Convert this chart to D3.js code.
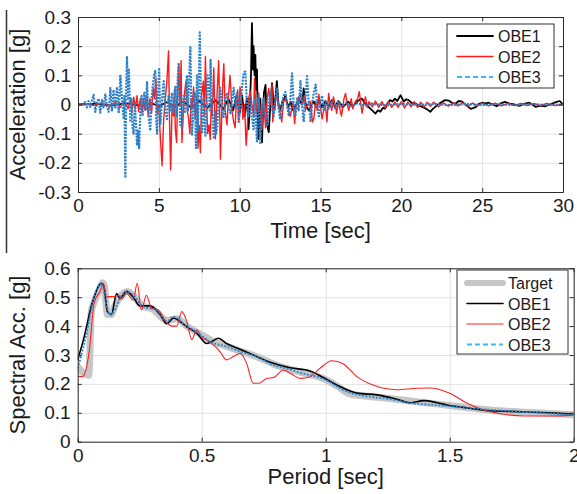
<!DOCTYPE html>
<html>
<head>
<meta charset="utf-8">
<script src="https://cdn.jsdelivr.net/npm/d3@7"></script>
<style>
body { margin: 0; background: #fff; }
svg text { font-family: "Liberation Sans", Arial, sans-serif; fill: #1a1a1a; }
</style>
</head>
<body>
<svg width="577" height="494"></svg>
<script>
// tick labels
const timeTicks = [0, 5, 10, 15, 20, 25, 30];
const accTicks = [-0.3, -0.2, -0.1, 0, 0.1, 0.2, 0.3];
const periodTicks = [0, 0.5, 1, 1.5, 2];
const saTicks = [0, 0.1, 0.2, 0.3, 0.4, 0.5, 0.6];

// acceleration time histories [time s, acc g]
const obe1Acc = [[0,0],[1,0.002],[2,-0.003],[3,0.004],[4,-0.005],[4.5,0.006],[5,-0.006],[5.5,0.008],[6,-0.008],[6.5,0.01],[7,-0.01],[7.5,0.012],[8,-0.012],[8.5,0.015],[9,-0.015],[9.3,0.02],[9.6,-0.02],[9.8,0.03],[10.0,-0.03],[10.15,0.03],[10.3,-0.04],[10.45,0.02],[10.55,-0.085],[10.62,-0.02],[10.7,0.1],[10.76,0.279],[10.82,0.12],[10.86,0.2],[10.92,0.1],[10.97,0.17],[11.02,0.05],[11.07,0.12],[11.12,-0.05],[11.17,-0.118],[11.22,0.0],[11.28,0.02],[11.33,-0.08],[11.38,-0.13],[11.45,-0.02],[11.5,0.04],[11.6,0.067],[11.65,-0.02],[11.7,-0.07],[11.8,-0.095],[11.9,0.0],[12.0,0.073],[12.08,0.02],[12.15,-0.02],[12.3,0.08],[12.4,0.0],[12.5,-0.02],[12.65,0.01],[12.83,0.03],[13.0,-0.01],[13.15,0.01],[13.3,-0.02],[13.5,0.0],[13.66,0.02],[13.85,0.0],[13.96,0.055],[14.05,0.01],[14.15,-0.01],[14.28,-0.02],[14.45,0.0],[14.6,0.01],[14.75,-0.01],[14.9,0.015],[15.1,-0.01],[15.3,0.012],[15.5,-0.008],[15.7,0.015],[15.9,-0.01],[16.1,0.012],[16.4,-0.008],[16.7,0.01],[17.0,-0.006],[17.3,0.012],[17.57,0.02],[17.8,0.0],[18.0,-0.01],[18.2,-0.02],[18.4,-0.031],[18.55,-0.02],[18.7,-0.025],[18.85,-0.012],[19.0,-0.014],[19.15,0.005],[19.3,0.015],[19.45,0.01],[19.6,0.02],[19.75,0.012],[19.95,0.032],[20.15,0.01],[20.3,0.018],[20.45,0.015],[20.65,0.005],[20.88,0.003],[21.1,-0.004],[21.3,-0.008],[21.55,-0.015],[21.8,-0.025],[21.95,-0.015],[22.1,-0.008],[22.4,0.005],[22.7,0.015],[22.95,0.013],[23.15,0.005],[23.35,0.003],[23.55,0.012],[23.76,0.01],[24.0,-0.002],[24.3,-0.015],[24.6,-0.009],[24.8,0.002],[25.0,0.006],[25.2,0.004],[25.4,0.006],[25.65,0.0],[25.9,-0.006],[26.15,0.004],[26.4,0.009],[26.7,0.003],[27.0,0.0],[27.3,-0.005],[27.6,0.002],[27.9,0.006],[28.1,0.0],[28.3,-0.008],[28.6,-0.004],[28.9,-0.006],[29.2,0.0],[29.6,0.009],[29.8,0.012],[30,0.0]];

const obe2Acc = [[0,0],[0.5,0.002],[1.0,-0.004],[1.5,0.005],[2.0,-0.006],[2.3,0.008],[2.6,-0.01],[2.9,0.012],[3.1,-0.015],[3.25,0.02],[3.34,-0.02],[3.45,0.025],[3.55,-0.015],[3.65,0.03],[3.75,-0.025],[3.85,0.02],[3.95,-0.03],[4.05,0.02],[4.15,-0.02],[4.25,0.03],[4.35,-0.04],[4.45,0.02],[4.55,-0.03],[4.66,0.056],[4.74,0.02],[4.82,0.09],[4.9,-0.03],[4.99,0.0],[5.1,-0.12],[5.2,-0.21],[5.3,-0.05],[5.4,0.02],[5.5,0.08],[5.6,0.184],[5.66,-0.05],[5.73,-0.224],[5.82,0.0],[5.91,-0.04],[5.97,0.05],[6.02,-0.084],[6.1,-0.13],[6.17,0.05],[6.23,0.137],[6.3,0.0],[6.38,0.15],[6.43,-0.13],[6.52,-0.02],[6.6,0.045],[6.68,0.08],[6.76,-0.02],[6.84,-0.049],[6.92,-0.1],[7.0,0.02],[7.05,-0.014],[7.15,0.06],[7.25,-0.05],[7.35,0.03],[7.42,-0.15],[7.5,-0.073],[7.57,-0.165],[7.65,0.03],[7.75,0.08],[7.82,-0.04],[7.88,0.165],[7.95,0.02],[8.02,-0.1],[8.1,-0.07],[8.18,-0.12],[8.25,0.02],[8.3,-0.04],[8.4,0.125],[8.45,0.0],[8.5,-0.118],[8.6,0.03],[8.7,0.15],[8.76,0.0],[8.81,-0.188],[8.9,-0.02],[8.96,0.08],[9.02,0.14],[9.1,-0.02],[9.22,-0.07],[9.3,0.02],[9.4,0.1],[9.45,0.057],[9.52,-0.02],[9.63,-0.06],[9.72,-0.08],[9.8,0.02],[9.88,0.05],[9.94,-0.06],[10.02,0.06],[10.1,0.03],[10.2,-0.05],[10.3,0.0],[10.4,-0.14],[10.45,-0.1],[10.55,0.02],[10.66,0.045],[10.76,0.0],[10.86,-0.04],[10.92,0.09],[10.97,0.02],[11.05,-0.03],[11.17,0.04],[11.28,-0.03],[11.38,-0.085],[11.5,0.0],[11.6,-0.08],[11.7,0.02],[11.8,0.055],[11.9,0.0],[12.0,0.07],[12.05,-0.06],[12.15,0.0],[12.3,0.033],[12.45,-0.01],[12.6,-0.06],[12.72,0.01],[12.83,0.02],[12.98,-0.01],[13.14,-0.04],[13.3,0.01],[13.4,-0.066],[13.5,0.0],[13.6,0.02],[13.76,0.035],[13.9,0.0],[14.0,0.03],[14.07,-0.02],[14.2,0.0],[14.38,0.01],[14.5,-0.06],[14.58,-0.05],[14.7,0.01],[14.8,-0.02],[14.9,0.035],[15.0,-0.01],[15.1,-0.049],[15.2,-0.02],[15.3,0.0],[15.4,-0.06],[15.5,0.038],[15.6,0.0],[15.7,-0.02],[15.8,0.026],[15.9,0.0],[16.0,-0.03],[16.1,0.01],[16.3,-0.04],[16.45,0.02],[16.55,0.038],[16.65,0.0],[16.75,-0.02],[16.9,0.02],[17.0,-0.015],[17.15,0.01],[17.3,0.02],[17.4,0.044],[17.5,0.0],[17.57,-0.03],[17.7,0.01],[17.78,0.026],[17.9,-0.01],[18.0,0.01],[18.2,-0.008],[18.4,0.012],[18.6,-0.01],[18.8,0.01],[19.0,-0.012],[19.2,0.01],[19.4,-0.01],[19.6,0.008],[19.8,-0.01],[20.0,0.01],[20.2,-0.012],[20.4,0.008],[20.6,-0.008],[20.8,0.01],[21.0,-0.01],[21.2,0.008],[21.4,-0.01],[21.6,0.008],[21.8,-0.006],[22.0,0.008],[22.3,-0.008],[22.6,0.006],[22.9,-0.006],[23.2,0.006],[23.5,-0.005],[23.8,0.006],[24.1,-0.006],[24.4,0.005],[24.7,-0.005],[25.0,0.005],[25.4,-0.005],[25.8,0.005],[26.2,-0.005],[26.6,0.004],[27.0,-0.004],[27.4,0.004],[27.8,-0.004],[28.2,0.004],[28.6,-0.004],[29.0,0.004],[29.5,-0.004],[30,0]];

const obe3Acc = [[0,0],[0.3,0],[0.45,0.008],[0.55,-0.01],[0.65,0.012],[0.75,-0.008],[0.87,0.015],[0.97,0.033],[1.07,-0.025],[1.17,0.01],[1.28,0.02],[1.38,-0.028],[1.48,0.015],[1.58,-0.01],[1.69,0.035],[1.8,-0.008],[1.9,-0.025],[2.0,0.056],[2.06,0.01],[2.1,-0.02],[2.2,0.05],[2.31,-0.015],[2.41,0.06],[2.52,-0.03],[2.62,0.102],[2.72,0.02],[2.82,-0.05],[2.87,0.03],[2.93,-0.252],[2.98,0.05],[3.03,0.166],[3.1,0.02],[3.15,0.12],[3.24,-0.06],[3.3,0.02],[3.38,-0.08],[3.44,-0.1],[3.52,0.0],[3.58,-0.06],[3.65,-0.14],[3.72,-0.09],[3.78,-0.15],[3.86,-0.02],[3.93,0.03],[4.0,-0.04],[4.1,0.04],[4.2,-0.02],[4.27,0.077],[4.35,-0.03],[4.47,-0.09],[4.55,0.02],[4.62,0.06],[4.7,0.1],[4.78,0.115],[4.84,-0.05],[4.89,-0.1],[4.95,0.03],[5.02,0.126],[5.09,-0.07],[5.2,0.02],[5.3,0.08],[5.4,-0.02],[5.5,-0.05],[5.6,0.03],[5.7,-0.02],[5.81,0.04],[5.9,-0.03],[6.02,0.064],[6.1,-0.04],[6.17,0.09],[6.23,0.143],[6.28,0.02],[6.33,-0.07],[6.43,-0.08],[6.54,0.03],[6.62,-0.03],[6.74,0.1],[6.8,-0.02],[6.87,0.08],[6.95,0.2],[7.0,0.02],[7.05,-0.107],[7.15,0.0],[7.22,0.04],[7.3,-0.15],[7.36,0.1],[7.42,-0.09],[7.47,0.05],[7.53,0.247],[7.6,0.05],[7.67,-0.1],[7.75,0.02],[7.82,-0.06],[7.88,-0.107],[7.95,0.01],[8.02,0.1],[8.1,0.07],[8.15,-0.02],[8.2,0.153],[8.28,0.0],[8.35,-0.07],[8.4,-0.118],[8.47,-0.02],[8.53,-0.1],[8.6,-0.083],[8.7,0.01],[8.8,0.057],[8.9,-0.01],[9.0,-0.047],[9.1,0.02],[9.22,0.04],[9.32,-0.01],[9.43,-0.03],[9.53,0.02],[9.63,0.057],[9.75,-0.01],[9.85,0.04],[9.94,-0.06],[10.05,0.0],[10.15,0.06],[10.25,0.11],[10.35,0.113],[10.45,0.0],[10.55,-0.04],[10.65,0.03],[10.75,-0.04],[10.86,-0.085],[10.95,0.02],[11.07,-0.13],[11.17,0.032],[11.28,-0.136],[11.38,-0.02],[11.48,0.02],[11.58,-0.03],[11.7,-0.07],[11.8,0.0],[11.9,0.043],[12.0,-0.01],[12.1,-0.04],[12.2,0.01],[12.3,0.055],[12.4,-0.01],[12.5,-0.05],[12.62,0.0],[12.72,0.03],[12.83,0.043],[12.95,-0.01],[13.05,-0.04],[13.14,0.02],[13.24,0.107],[13.34,0.0],[13.45,-0.04],[13.55,0.02],[13.65,-0.02],[13.76,0.08],[13.86,0.0],[13.96,-0.06],[14.07,0.02],[14.17,0.097],[14.27,0.01],[14.38,-0.06],[14.48,0.0],[14.58,0.04],[14.7,0.068],[14.8,0.0],[14.9,-0.04],[15.0,0.01],[15.1,0.03],[15.2,-0.02],[15.35,0.015],[15.5,-0.015],[15.7,0.01],[15.9,-0.012],[16.1,0.01],[16.3,-0.008],[16.6,0.006],[16.9,-0.006],[17.3,0.005],[17.7,-0.004],[18.2,0.003],[19,-0.003],[20,0.002],[21,-0.002],[22,0.002],[23,-0.002],[24,0.002],[25,-0.002],[26,0.002],[27,-0.002],[28,0.002],[29,-0.002],[30,0]];

// response spectra [period s, Sa g]
const targetSa = [[0,0.26],[0.02,0.24],[0.045,0.23],[0.055,0.45],[0.065,0.48],[0.09,0.53],[0.1,0.55],[0.107,0.54],[0.12,0.44],[0.135,0.44],[0.15,0.47],[0.17,0.5],[0.2,0.52],[0.22,0.51],[0.26,0.47],[0.3,0.46],[0.36,0.42],[0.4,0.425],[0.44,0.4],[0.5,0.37],[0.55,0.345],[0.6,0.33],[0.65,0.315],[0.72,0.295],[0.8,0.265],[0.9,0.24],[1.0,0.215],[1.05,0.19],[1.1,0.165],[1.2,0.155],[1.3,0.145],[1.4,0.135],[1.5,0.125],[1.6,0.115],[1.7,0.107],[1.8,0.102],[1.9,0.098],[2.0,0.093]];
const obe1Sa = [[0,0.283],[0.023,0.352],[0.06,0.484],[0.096,0.548],[0.105,0.54],[0.12,0.45],[0.136,0.44],[0.157,0.513],[0.17,0.496],[0.197,0.52],[0.224,0.5],[0.251,0.47],[0.291,0.47],[0.332,0.44],[0.359,0.408],[0.386,0.428],[0.413,0.416],[0.44,0.397],[0.48,0.376],[0.52,0.34],[0.537,0.345],[0.567,0.358],[0.6,0.34],[0.654,0.32],[0.708,0.3],[0.776,0.275],[0.856,0.256],[0.937,0.245],[0.99,0.222],[1.045,0.196],[1.126,0.168],[1.207,0.162],[1.287,0.147],[1.34,0.135],[1.395,0.142],[1.449,0.135],[1.5,0.125],[1.58,0.116],[1.66,0.107],[1.77,0.104],[1.9,0.1],[2.0,0.096]];
const obe2Sa = [[0,0.227],[0.018,0.225],[0.036,0.26],[0.047,0.317],[0.066,0.479],[0.09,0.52],[0.103,0.548],[0.117,0.502],[0.144,0.502],[0.164,0.507],[0.177,0.493],[0.197,0.513],[0.224,0.49],[0.24,0.548],[0.257,0.456],[0.277,0.507],[0.297,0.462],[0.325,0.456],[0.352,0.421],[0.379,0.4],[0.399,0.4],[0.42,0.45],[0.44,0.415],[0.46,0.354],[0.48,0.386],[0.5,0.361],[0.52,0.352],[0.547,0.335],[0.574,0.312],[0.6,0.283],[0.628,0.295],[0.655,0.306],[0.681,0.271],[0.708,0.202],[0.73,0.202],[0.762,0.219],[0.79,0.222],[0.83,0.248],[0.86,0.235],[0.9,0.219],[0.937,0.225],[0.977,0.254],[1.025,0.28],[1.07,0.27],[1.126,0.225],[1.19,0.196],[1.287,0.18],[1.368,0.185],[1.42,0.186],[1.5,0.168],[1.57,0.133],[1.637,0.11],[1.718,0.095],[1.8,0.089],[1.9,0.089],[2.0,0.092]];
const obe3Sa = [[0,0.254],[0.036,0.375],[0.063,0.49],[0.096,0.548],[0.117,0.467],[0.13,0.438],[0.15,0.456],[0.17,0.496],[0.197,0.52],[0.224,0.508],[0.264,0.467],[0.318,0.456],[0.359,0.416],[0.386,0.433],[0.433,0.404],[0.48,0.38],[0.534,0.346],[0.6,0.329],[0.655,0.312],[0.722,0.294],[0.789,0.265],[0.856,0.25],[0.883,0.242],[0.997,0.215],[1.085,0.173],[1.138,0.161],[1.26,0.147],[1.354,0.133],[1.488,0.124],[1.622,0.113],[1.76,0.105],[2.0,0.093]];

const svg = d3.select('svg');

// left border line from the cropped page
svg.append('line')
    .attr('x1', 6.5).attr('x2', 6.5)
    .attr('y1', 10).attr('y2', 253)
    .attr('stroke', '#333')
    .attr('stroke-width', 1.5);

function fmt(d) { return d === 0 ? '0' : String(d); }

function panel(p) {
    const g = svg.append('g').attr('transform', `translate(${p.left},${p.top})`);
    const x = d3.scaleLinear().domain(p.xDomain).range([0, p.width]);
    const y = d3.scaleLinear().domain(p.yDomain).range([p.height, 0]);

    // grid
    g.append('g')
        .attr('transform', `translate(0,${p.height})`)
        .call(d3.axisBottom(x).tickValues(p.xTicks).tickSize(-p.height).tickFormat(''))
        .call((a) => a.select('.domain').remove())
        .selectAll('line').attr('stroke', '#e2e2e2');
    g.append('g')
        .call(d3.axisLeft(y).tickValues(p.yTicks).tickSize(-p.width).tickFormat(''))
        .call((a) => a.select('.domain').remove())
        .selectAll('line').attr('stroke', '#e2e2e2');

    // clip
    const clipId = 'clip' + Math.round(p.top);
    g.append('clipPath').attr('id', clipId)
        .append('rect').attr('width', p.width).attr('height', p.height);
    const plot = g.append('g').attr('clip-path', `url(#${clipId})`);

    const line = d3.line()
        .x((d) => x(d[0]))
        .y((d) => y(d[1]))
        .curve(p.curve || d3.curveLinear);

    p.series.forEach((s) => {
        plot.append('path')
            .datum(s.data)
            .attr('fill', 'none')
            .attr('stroke', s.color)
            .attr('stroke-width', s.width)
            .attr('stroke-dasharray', s.dash || null)
            .attr('stroke-linejoin', 'round')
            .attr('d', line);
    });

    // axes (box with inward ticks)
    const axes = [
        g.append('g').attr('transform', `translate(0,${p.height})`)
            .call(d3.axisBottom(x).tickValues(p.xTicks).tickFormat(fmt).tickSizeInner(-4).tickSizeOuter(0).tickPadding(p.xPad)),
        g.append('g')
            .call(d3.axisLeft(y).tickValues(p.yTicks).tickFormat(fmt).tickSizeInner(-4).tickSizeOuter(0).tickPadding(7)),
        g.append('g')
            .call(d3.axisTop(x).tickValues(p.xTicks).tickFormat('').tickSizeInner(-4).tickSizeOuter(0)),
        g.append('g').attr('transform', `translate(${p.width},0)`)
            .call(d3.axisRight(y).tickValues(p.yTicks).tickFormat('').tickSizeInner(-4).tickSizeOuter(0))
    ];
    axes.forEach((a) => {
        a.attr('font-family', null).attr('font-size', 19);
        a.select('.domain').attr('stroke', '#2b2b2b');
        a.selectAll('.tick line').attr('stroke', '#2b2b2b');
        a.selectAll('text').attr('fill', '#1a1a1a');
    });

    // axis titles
    g.append('text')
        .attr('x', p.width / 2)
        .attr('y', p.xTitleY)
        .attr('text-anchor', 'middle')
        .attr('font-size', 22)
        .text(p.xLabel);
    g.append('text')
        .attr('transform', `translate(${25 - p.left},${p.height / 2}) rotate(-90)`)
        .attr('text-anchor', 'middle')
        .attr('font-size', 22)
        .text(p.yLabel);

    // legend
    const lg = svg.append('g');
    lg.append('rect')
        .attr('x', p.legend.x).attr('y', p.legend.y)
        .attr('width', p.legend.w).attr('height', p.legend.h)
        .attr('fill', '#fff')
        .attr('stroke', '#333')
        .attr('stroke-width', 1);
    p.series.forEach((s, i) => {
        const ly = p.legend.y + p.legend.first + i * 20.5;
        lg.append('line')
            .attr('x1', p.legend.x + 10).attr('x2', p.legend.x + 46)
            .attr('y1', ly).attr('y2', ly)
            .attr('stroke', s.legendColor || s.color)
            .attr('stroke-width', s.legendWidth || s.width)
            .attr('stroke-linecap', s.dash ? 'butt' : 'round')
            .attr('stroke-dasharray', s.legendDash || null);
        lg.append('text')
            .attr('x', p.legend.x + 51)
            .attr('y', ly + 6)
            .attr('font-size', 16)
            .text(s.name);
    });
}

// acceleration time histories
panel({
    left: 78, top: 17, width: 485, height: 175,
    xDomain: [0, 30], yDomain: [-0.3, 0.3],
    xTicks: timeTicks, yTicks: accTicks, xPad: 7,
    xLabel: 'Time [sec]', yLabel: 'Acceleration [g]', xTitleY: 221,
    series: [
        { name: 'OBE1', data: obe1Acc, color: '#000', width: 1.8 },
        { name: 'OBE2', data: obe2Acc, color: '#ff1a1a', width: 1.4 },
        { name: 'OBE3', data: obe3Acc, color: '#2a7fc9', width: 2.2, dash: '2,1.2',
          legendColor: '#33bbf5', legendDash: '5,3', legendWidth: 2.2 }
    ],
    legend: { x: 447, y: 24, w: 107, h: 64, first: 12 }
});

// response spectra
panel({
    left: 77.7, top: 268.3, width: 496, height: 173.4,
    xDomain: [0, 2], yDomain: [0, 0.6],
    xTicks: periodTicks, yTicks: saTicks, xPad: 7,
    xLabel: 'Period [sec]', yLabel: 'Spectral Acc. [g]', xTitleY: 216,
    curve: d3.curveMonotoneX,
    series: [
        { name: 'Target', data: targetSa, color: '#c6c6c6', width: 7, legendWidth: 6 },
        { name: 'OBE1', data: obe1Sa, color: '#000', width: 1.6 },
        { name: 'OBE2', data: obe2Sa, color: '#ff2020', width: 1.1 },
        { name: 'OBE3', data: obe3Sa, color: '#2188d8', width: 1.8, dash: '2,1.5',
          legendColor: '#33bbf5', legendDash: '5,3', legendWidth: 2 }
    ],
    legend: { x: 457, y: 270, w: 111, h: 84, first: 13 }
});
</script>
</body>
</html>
